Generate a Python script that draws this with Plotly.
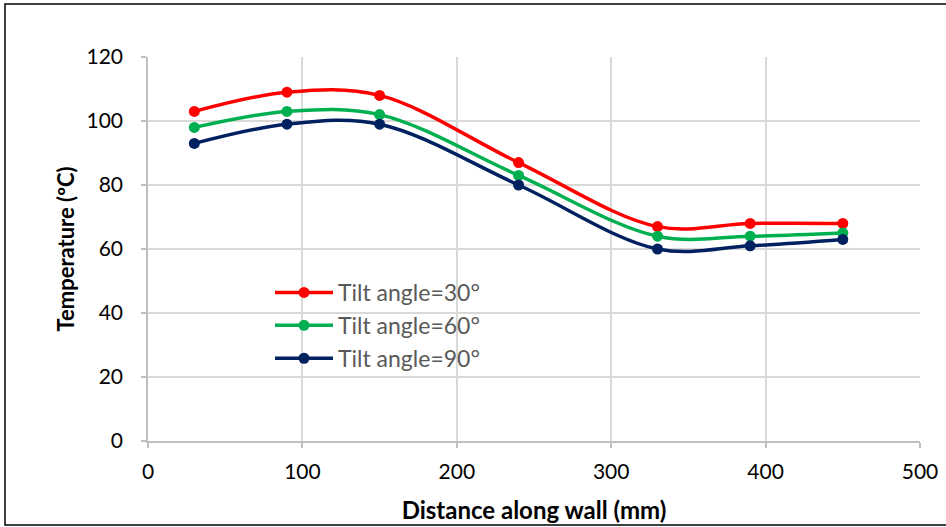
import plotly.graph_objects as go

distance = [30, 90, 150, 240, 330, 390, 450]
temp_30 = [103, 109, 108, 87, 67, 68, 68]
temp_60 = [98, 103, 102, 83, 64, 64, 65]
temp_90 = [93, 99, 99, 80, 60, 61, 63]
series_names = ["Tilt angle=30°", "Tilt angle=60°", "Tilt angle=90°"]
colors = ["#FF0000", "#00B050", "#002060"]

FONT = "Lato"
W, H = 946, 527
L, R, T, B = 148, 26, 57, 86
pw, ph = W - L - R, H - T - B

fig = go.Figure()
for name, ys, c in zip(series_names, [temp_30, temp_60, temp_90], colors):
    fig.add_trace(go.Scatter(
        x=distance, y=ys, name=name, mode="lines+markers",
        line=dict(color=c, width=3.5, shape="spline", smoothing=1),
        marker=dict(color=c, size=11),
    ))

grid = "#D9D9D9"
fig.update_layout(
    width=W, height=H,
    margin=dict(l=L, r=R, t=T, b=B, pad=0),
    paper_bgcolor="white", plot_bgcolor="white",
    font=dict(family=FONT, color="#000000"),
    showlegend=True,
    legend=dict(
        x=(270 - L) / pw, y=(441 - 271) / ph, xanchor="left", yanchor="top",
        bgcolor="rgba(255,255,255,0)", font=dict(size=23, color="#595959", family=FONT),
        itemwidth=58, tracegroupgap=0,
    ),
    xaxis=dict(
        range=[0, 500], dtick=100, tick0=0, automargin=False,
        showgrid=True, gridcolor=grid, gridwidth=1.5,
        showline=True, linecolor="#BFBFBF", linewidth=1.5,
        ticks="outside", ticklen=5, tickcolor="#BFBFBF", tickwidth=1.5,
        ticklabelstandoff=6,
        tickfont=dict(size=21, color="#000000", family=FONT),
        title=dict(text="<b>Distance along wall (mm)</b>", font=dict(size=24, color="#000000", family=FONT), standoff=20),
        zeroline=False,
    ),
    yaxis=dict(
        range=[0, 120], dtick=20, tick0=0, automargin=False,
        showgrid=True, gridcolor=grid, gridwidth=1.5,
        showline=True, linecolor="#BFBFBF", linewidth=1.5,
        ticks="outside", ticklen=5, tickcolor="#BFBFBF", tickwidth=1.5,
        ticklabelstandoff=14,
        tickfont=dict(size=21, color="#000000", family=FONT),
        title=dict(text="<b>Temperature (ºC)</b>", font=dict(size=22, color="#000000", family=FONT), standoff=6),
        zeroline=False,
    ),
)

# outer chart frame
fig.add_shape(type="rect", xref="paper", yref="paper",
              x0=(5 - L) / pw, x1=(952 - L) / pw,
              y0=(T + ph - 525) / ph, y1=(T + ph - 4) / ph,
              line=dict(color="#000000", width=1.5), fillcolor="rgba(0,0,0,0)", layer="below")

fig.write_html("out.html")
